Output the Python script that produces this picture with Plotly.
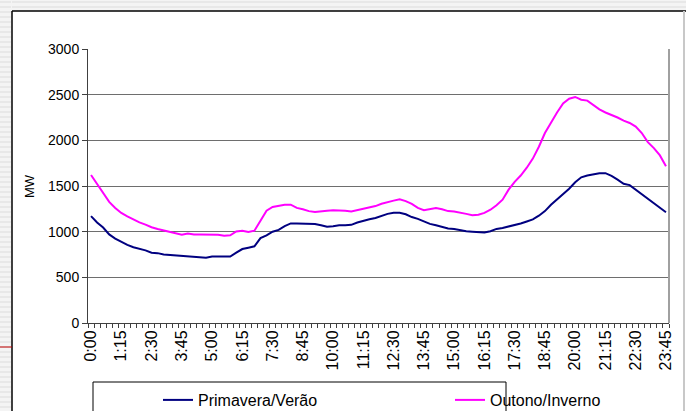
import plotly.graph_objects as go

# categories: every 15 minutes
times = [f"{h}:{m:02d}" for h in range(24) for m in (0, 15, 30, 45)]

primavera_verao = [
    1170, 1100, 1045, 970, 925, 890, 855, 830, 815, 795,
    770, 765, 750, 745, 740, 730, 728, 728, 722, 715,
    728, 728, 728, 728, 770, 810, 825, 840, 930, 960,
    1000, 1020, 1060, 1090, 1090, 1090, 1090, 1085, 1070, 1055,
    1060, 1070, 1070, 1075, 1100, 1120, 1135, 1150, 1175, 1195,
    1208, 1208, 1190, 1160, 1140, 1110, 1085, 1070, 1050, 1035,
    1030, 1015, 1005, 1000, 995, 992, 1005, 1030, 1040, 1055,
    1075, 1090, 1112, 1135, 1175, 1225, 1295, 1350, 1405, 1470,
    1540, 1595, 1615, 1630, 1640, 1640, 1610, 1570, 1525, 1510,
    1460, 1415, 1370, 1320, 1265, 1213,
]

outono_inverno = [
    1620, 1517, 1414, 1326, 1260, 1205, 1168, 1131, 1102, 1077,
    1048, 1030, 1015, 1000, 982, 967, 980, 970, 970, 967,
    967, 967, 955, 960, 1003, 1010, 997, 1011, 1120, 1230,
    1270, 1280, 1295, 1295, 1260, 1245, 1225, 1215, 1225, 1230,
    1234, 1234, 1230, 1222, 1235, 1250, 1265, 1280, 1305, 1325,
    1340, 1355, 1335, 1305, 1260, 1234, 1245, 1258, 1245, 1225,
    1220, 1210, 1195, 1180, 1185, 1205, 1240, 1290, 1350, 1460,
    1545, 1615, 1700, 1800, 1930, 2080, 2200, 2305, 2405, 2455,
    2475, 2445, 2435, 2385, 2340, 2305, 2280, 2250, 2215, 2190,
    2150, 2080, 1980, 1915, 1835, 1717,
]

tick_labels = ["0:00", "1:15", "2:30", "3:45", "5:00", "6:15", "7:30", "8:45",
               "10:00", "11:15", "12:30", "13:45", "15:00", "16:15", "17:30",
               "18:45", "20:00", "21:15", "22:30", "23:45"]

y_ticks = [0, 500, 1000, 1500, 2000, 2500, 3000]

# reference frame (pixels of the target picture)
W, H = 686, 411
L, R, T, B = 88, 669, 49, 323
FIG_H = 417  # rendered viewport height


def px(xp):
    return xp / W


def py(yp):
    return 1 - yp / H


FONT = "Liberation Sans, Arial, sans-serif"

fig = go.Figure()
fig.add_trace(go.Scatter(x=times, y=primavera_verao, mode="lines",
                         name="Primavera/Verão", legend="legend",
                         line=dict(color="#000080", width=2)))
fig.add_trace(go.Scatter(x=times, y=outono_inverno, mode="lines",
                         name="Outono/Inverno", legend="legend2",
                         line=dict(color="#FF00FF", width=2)))

ticktext = [t if t in tick_labels else "" for t in times]

shapes = []
# decorative slide background stripes (left and top)
shapes.append(dict(type="rect", xref="paper", yref="paper",
                   x0=px(0), x1=px(12), y0=py(411), y1=py(0),
                   fillcolor="#f4f4f4", line=dict(width=0), layer="below"))
shapes.append(dict(type="rect", xref="paper", yref="paper",
                   x0=px(0), x1=px(686), y0=py(11), y1=py(0),
                   fillcolor="#f4f4f4", line=dict(width=0), layer="below"))
for k in range(0, 82):
    yy = 2 + k * 5
    shapes.append(dict(type="line", xref="paper", yref="paper",
                       x0=px(0), x1=px(11), y0=py(yy), y1=py(yy),
                       line=dict(color="#dcdcdc", width=1)))
for yy in (2, 7):
    shapes.append(dict(type="line", xref="paper", yref="paper",
                       x0=px(12), x1=px(686), y0=py(yy), y1=py(yy),
                       line=dict(color="#dcdcdc", width=1)))
# outer chart frame
shapes.append(dict(type="line", xref="paper", yref="paper",
                   x0=px(12), x1=px(686), y0=py(11), y1=py(11),
                   line=dict(color="#000000", width=1.5)))
shapes.append(dict(type="line", xref="paper", yref="paper",
                   x0=px(12), x1=px(12), y0=py(11), y1=py(411),
                   line=dict(color="#000000", width=1.5)))
shapes.append(dict(type="line", xref="paper", yref="paper",
                   x0=px(684), x1=px(684), y0=py(11), y1=py(411),
                   line=dict(color="#c8c8c8", width=2)))
shapes.append(dict(type="line", xref="paper", yref="paper",
                   x0=px(0), x1=px(12), y0=py(347), y1=py(347),
                   line=dict(color="#c00000", width=1)))
# plot-area right border
shapes.append(dict(type="line", xref="paper", yref="paper",
                   x0=px(R), x1=px(R), y0=py(B), y1=py(T),
                   line=dict(color="#a0a0a0", width=2)))
# legend box
shapes.append(dict(type="rect", xref="paper", yref="paper",
                   x0=px(93), x1=px(506), y0=py(382), y1=py(425),
                   fillcolor="rgba(0,0,0,0)", line=dict(color="#000000", width=1)))

legend_common = dict(orientation="h", yanchor="top", xanchor="left",
                     bgcolor="rgba(0,0,0,0)", borderwidth=0,
                     font=dict(family=FONT, size=16, color="#000000"),
                     itemwidth=30)

fig.update_layout(
    width=W, height=FIG_H, autosize=False,
    margin=dict(l=0, r=0, t=0, b=0, pad=0),
    paper_bgcolor="white", plot_bgcolor="white",
    font=dict(family=FONT, size=14, color="#000000"),
    showlegend=True,
    legend=dict(x=px(158), y=py(383), **legend_common),
    legend2=dict(x=px(450), y=py(383), **legend_common),
    shapes=shapes,
    annotations=[dict(text="MW", xref="paper", yref="paper", x=px(29), y=py(186),
                      showarrow=False, textangle=-90,
                      font=dict(family=FONT, size=13, color="#000000"),
                      xanchor="center", yanchor="middle")],
)

fig.update_xaxes(
    domain=[px(L), px(R)],
    type="category", categoryorder="array", categoryarray=times,
    range=[-0.5, len(times) - 0.5],
    tickmode="array", tickvals=times, ticktext=ticktext,
    tickson="boundaries", ticks="outside", ticklen=4, tickwidth=1,
    tickcolor="#404040", tickangle=-90,
    tickfont=dict(family=FONT, size=16, color="#000000"),
    showline=True, linecolor="#404040", linewidth=1,
    showgrid=False, zeroline=False, automargin=False, fixedrange=True,
)
fig.update_yaxes(
    domain=[py(B), py(T)],
    range=[0, 3000], tickmode="array", tickvals=y_ticks,
    ticks="outside", ticklen=5, tickwidth=1, tickcolor="#404040",
    tickfont=dict(family=FONT, size=14, color="#000000"),
    showline=True, linecolor="#404040", linewidth=1,
    showgrid=True, gridcolor="#6e6e6e", gridwidth=1,
    zeroline=False, automargin=False, fixedrange=True,
)

fig.write_html(
    "out.html",
    config={"displayModeBar": False, "responsive": False, "staticPlot": True},
    post_script=(
        "var d=document.documentElement,b=document.body;"
        "d.style.margin='0';d.style.padding='0';d.style.overflow='hidden';"
        "b.style.margin='0';b.style.padding='0';b.style.overflow='hidden';"
    ),
)
